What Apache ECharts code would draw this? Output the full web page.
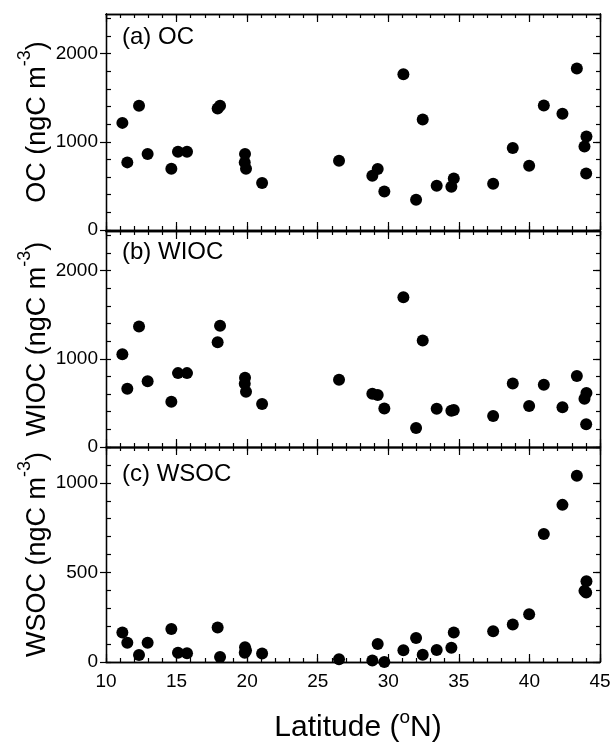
<!DOCTYPE html>
<html><head><meta charset="utf-8">
<script src="https://cdn.jsdelivr.net/npm/echarts@6/dist/echarts.min.js"></script>
<style>html,body{margin:0;padding:0;background:#fff}#c{width:612px;height:742px}</style>
</head><body><div id="c"></div>
<script>
// ---- data ----
const latitude = [11.16, 11.51, 12.34, 12.95, 14.63, 15.10, 15.74, 17.91, 18.08, 19.85, 19.83, 19.92, 21.06, 26.51,
  28.87, 29.25, 29.72, 31.07, 31.97, 32.44, 33.43, 34.47, 34.64, 37.43, 38.82, 39.98, 41.02, 42.34, 43.36, 44.04, 43.90, 44.02];
const ocValues = [1215, 767, 1408, 861, 694, 887, 887, 1378, 1408, 861, 767, 694, 532, 785,
  615, 691, 438, 1767, 343, 1253, 502, 491, 585, 525, 929, 729, 1412, 1318, 1831, 1061, 948, 642];
const wiocValues = [1053, 661, 1367, 747, 514, 838, 838, 1189, 1375, 786, 718, 627, 487, 763,
  605, 589, 438, 1699, 215, 1208, 435, 412, 419, 351, 721, 464, 707, 450, 804, 612, 548, 257];
const wsocValues = [164, 108, 39, 108, 184, 52, 49, 192, 28, 82, 52, 64, 47, 15,
  8, 101, 0, 65, 134, 41, 67, 80, 164, 171, 209, 266, 715, 877, 1039, 451, 397, 388];

const panelLabels = ['(a) OC', '(b) WIOC', '(c) WSOC'];
const yNames = ['OC', 'WIOC', 'WSOC'];
const xMajorTicks = [10, 15, 20, 25, 30, 35, 40, 45];
const xMinorTicks = [10,11,12,13,14,15,16,17,18,19,20,21,22,23,24,25,26,27,28,29,30,31,32,33,34,35,36,37,38,39,40,41,42,43,44,45];
const yMajorTicksAB = [0, 1000, 2000];
const yMinorTicksAB = [0, 200, 400, 600, 800, 1000, 1200, 1400, 1600, 1800, 2000, 2200, 2400];
const yMajorTicksC = [0, 500, 1000];
const yMinorTicksC = [0, 100, 200, 300, 400, 500, 600, 700, 800, 900, 1000, 1100, 1200];
const yMaxes = [2450, 2450, 1200];

// ---- layout / style ----
const FONT = 'Liberation Sans, Arial, Helvetica, sans-serif';
const tops = [14, 231, 447];
const heights = [216, 216, 215];
const seriesValues = [ocValues, wiocValues, wsocValues];
const majorY = [yMajorTicksAB, yMajorTicksAB, yMajorTicksC];
const minorY = [yMinorTicksAB, yMinorTicksAB, yMinorTicksC];
const axisLine = { show: true, onZero: false, lineStyle: { color: '#000', width: 1.3 } };
const tickStyle = { color: '#000', width: 1.2 };

const grids = [], xAxes = [], yAxes = [], series = [], titles = [];
for (let p = 0; p < 3; p++) {
  grids.push({ left: 106, width: 494, top: tops[p], height: heights[p], containLabel: false, outerBoundsMode: 'none' });
  const xBase = { type: 'value', gridIndex: p, min: 10, max: 45, splitLine: { show: false }, axisLine };
  xAxes.push(Object.assign({}, xBase, {
    position: 'bottom',
    axisTick: { show: true, inside: true, length: 8, customValues: xMajorTicks, lineStyle: tickStyle },
    axisLabel: { show: p === 2, customValues: xMajorTicks, fontSize: 19, color: '#000', fontFamily: FONT, margin: 10,
      formatter: v => String(v) },
    name: p === 2 ? 'Latitude ({sup|o}N)' : '',
    nameLocation: 'middle', nameGap: 46, nameMoveOverlap: false,
    nameTextStyle: { fontSize: 30, lineHeight: 40, color: '#000', fontFamily: FONT, padding: [0, 0, 0, 10],
      rich: { sup: { fontSize: 19, lineHeight: 19, verticalAlign: 'top', color: '#000', fontFamily: FONT } } }
  }));
  xAxes.push(Object.assign({}, xBase, {
    position: 'bottom',
    axisTick: { show: true, inside: true, length: 4, customValues: xMinorTicks, lineStyle: tickStyle },
    axisLabel: { show: false }
  }));
  xAxes.push(Object.assign({}, xBase, {
    position: 'top',
    axisTick: { show: true, inside: true, length: 8, customValues: xMajorTicks, lineStyle: tickStyle },
    axisLabel: { show: false }
  }));
  xAxes.push(Object.assign({}, xBase, {
    position: 'top',
    axisTick: { show: true, inside: true, length: 4, customValues: xMinorTicks, lineStyle: tickStyle },
    axisLabel: { show: false }
  }));

  const yBase = { type: 'value', gridIndex: p, min: 0, max: yMaxes[p], splitLine: { show: false }, axisLine };
  yAxes.push(Object.assign({}, yBase, {
    position: 'left',
    axisTick: { show: true, inside: false, length: 6, customValues: majorY[p], lineStyle: tickStyle },
    axisLabel: { show: true, customValues: majorY[p], fontSize: 19, color: '#000', fontFamily: FONT, margin: 8,
      formatter: v => String(v) },
    name: yNames[p] + ' (ngC m{sup|-3})',
    nameLocation: 'middle', nameRotate: 90, nameGap: 47, nameMoveOverlap: false,
    nameTextStyle: { fontSize: 27, lineHeight: 43, color: '#000', fontFamily: FONT,
      rich: { sup: { fontSize: 18, lineHeight: 18, verticalAlign: 'top', color: '#000', fontFamily: FONT } } }
  }));
  yAxes.push(Object.assign({}, yBase, {
    position: 'left',
    axisTick: { show: true, inside: true, length: 5, customValues: minorY[p], lineStyle: tickStyle },
    axisLabel: { show: false }
  }));
  yAxes.push(Object.assign({}, yBase, {
    position: 'right',
    axisTick: { show: true, inside: true, length: 7, customValues: majorY[p], lineStyle: tickStyle },
    axisLabel: { show: false }
  }));
  yAxes.push(Object.assign({}, yBase, {
    position: 'right',
    axisTick: { show: true, inside: true, length: 4, customValues: minorY[p], lineStyle: tickStyle },
    axisLabel: { show: false }
  }));

  series.push({
    type: 'scatter', xAxisIndex: p * 4, yAxisIndex: p * 4,
    symbol: 'circle', symbolSize: 12,
    itemStyle: { color: '#000', opacity: 1 },
    data: latitude.map((x, i) => [x, seriesValues[p][i]]),
    z: 10
  });
}
titles.push({ text: panelLabels[0], left: 122, top: 25 });
titles.push({ text: panelLabels[1], left: 122, top: 240 });
titles.push({ text: panelLabels[2], left: 122, top: 462 });
titles.forEach(t => { t.padding = 0; t.textStyle = { fontSize: 24, fontWeight: 'normal', color: '#000', fontFamily: FONT }; });

const chart = echarts.init(document.getElementById('c'), null, { renderer: 'canvas' });
chart.setOption({
  animation: false,
  backgroundColor: '#fff',
  title: titles,
  grid: grids,
  xAxis: xAxes,
  yAxis: yAxes,
  series: series
});
</script>
</body></html>
